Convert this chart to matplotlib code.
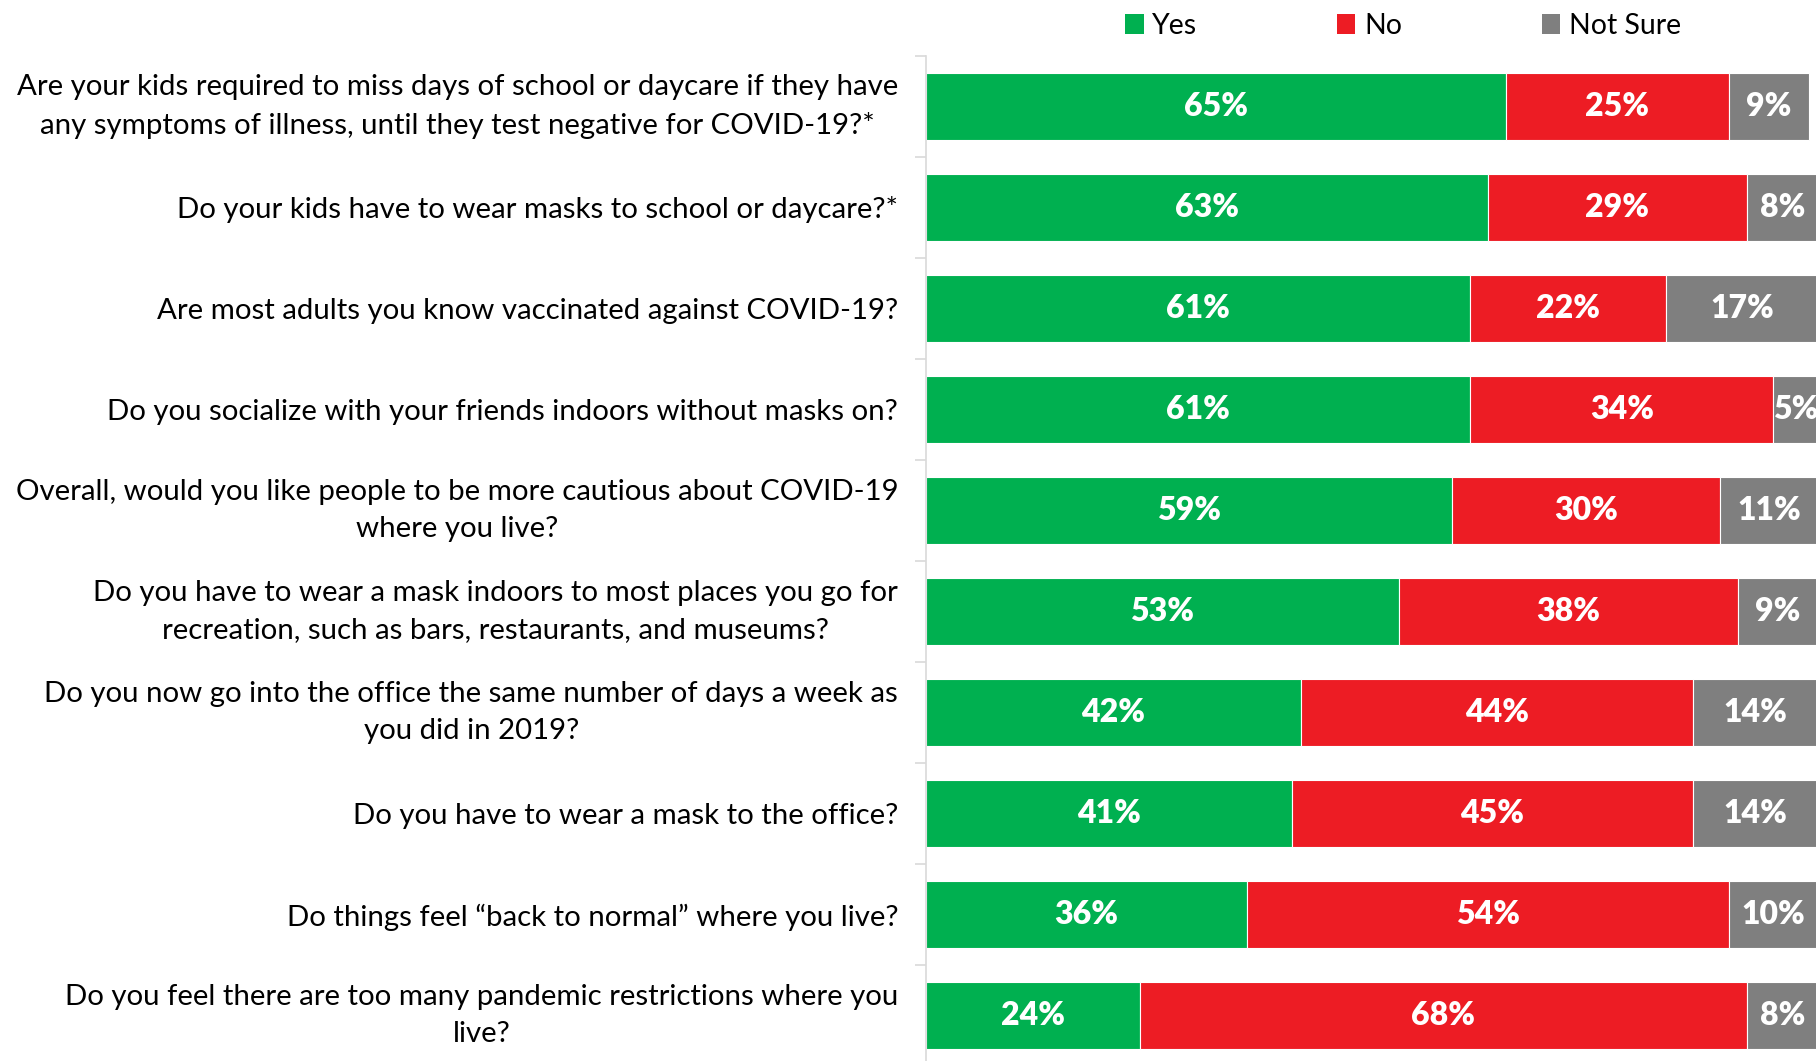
import matplotlib
matplotlib.use("Agg")
import matplotlib.pyplot as plt
from matplotlib.patches import Patch

questions = [
    "Are your kids required to miss days of school or daycare if they have\nany symptoms of illness, until they test negative for COVID-19?*",
    "Do your kids have to wear masks to school or daycare?*",
    "Are most adults you know vaccinated against COVID-19?",
    "Do you socialize with your friends indoors without masks on?",
    "Overall, would you like people to be more cautious about COVID-19\nwhere you live?",
    "Do you have to wear a mask indoors to most places you go for\nrecreation, such as bars, restaurants, and museums?",
    "Do you now go into the office the same number of days a week as\nyou did in 2019?",
    "Do you have to wear a mask to the office?",
    "Do things feel \u201cback to normal\u201d where you live?",
    "Do you feel there are too many pandemic restrictions where you\nlive?",
]
yes = [65, 63, 61, 61, 59, 53, 42, 41, 36, 24]
no = [25, 29, 22, 34, 30, 38, 44, 45, 54, 68]
not_sure = [9, 8, 17, 5, 11, 9, 14, 14, 10, 8]
series_names = ["Yes", "No", "Not Sure"]
colors = ["#00B050", "#ED1C24", "#7F7F7F"]

plt.rcParams['font.family'] = ['Lato', 'DejaVu Sans']

W, H = 1816, 1061
fig = plt.figure(figsize=(W / 100, H / 100), dpi=100)
ax_left = 926 / W
ax_width = 892 / W
ax_top = 1 - 56 / H
ax_bottom = 1 - 1066 / H
ax = fig.add_axes([ax_left, ax_bottom, ax_width, ax_top - ax_bottom])

n = len(questions)
ypos = list(range(n))
lefts = [0] * n
for vals, col in zip([yes, no, not_sure], colors):
    ax.barh(ypos, vals, left=lefts, height=0.67, color=col,
            edgecolor="white", linewidth=0.8)
    for y, v, l in zip(ypos, vals, lefts):
        ax.text(l + v / 2, y, f"{v}%", ha="center", va="center",
                color="white", fontsize=23, fontweight="heavy")
    lefts = [a + b for a, b in zip(lefts, vals)]

ax.set_xlim(0, 100)
ax.set_ylim(n - 0.5, -0.5)
ax.set_yticks(ypos)
ax.set_yticklabels(questions, fontsize=21.2, multialignment="center",
                   linespacing=1.55)
for lbl in ax.get_yticklabels():
    if "\n" in lbl.get_text():
        lbl.set_verticalalignment("center")
ax.tick_params(axis="y", length=0, pad=20)
ax.set_yticks([i - 0.5 for i in range(n + 1)], minor=True)
ax.tick_params(axis="y", which="minor", length=8, color="#D9D9D9", width=1.2)
ax.set_xticks([])
for s in ["top", "right", "bottom"]:
    ax.spines[s].set_visible(False)
ax.spines["left"].set_color("#D9D9D9")
ax.spines["left"].set_linewidth(1.2)

handles = [Patch(facecolor=c, edgecolor="none") for c in colors]
fig.legend(handles, series_names, loc="center",
           bbox_to_anchor=(1403 / W, 1 - 26 / H), ncol=3, frameon=False,
           fontsize=20.5, handlelength=0.65, handleheight=0.65, handletextpad=0.3,
           columnspacing=4.9)

fig.savefig("out.png", dpi=100)
